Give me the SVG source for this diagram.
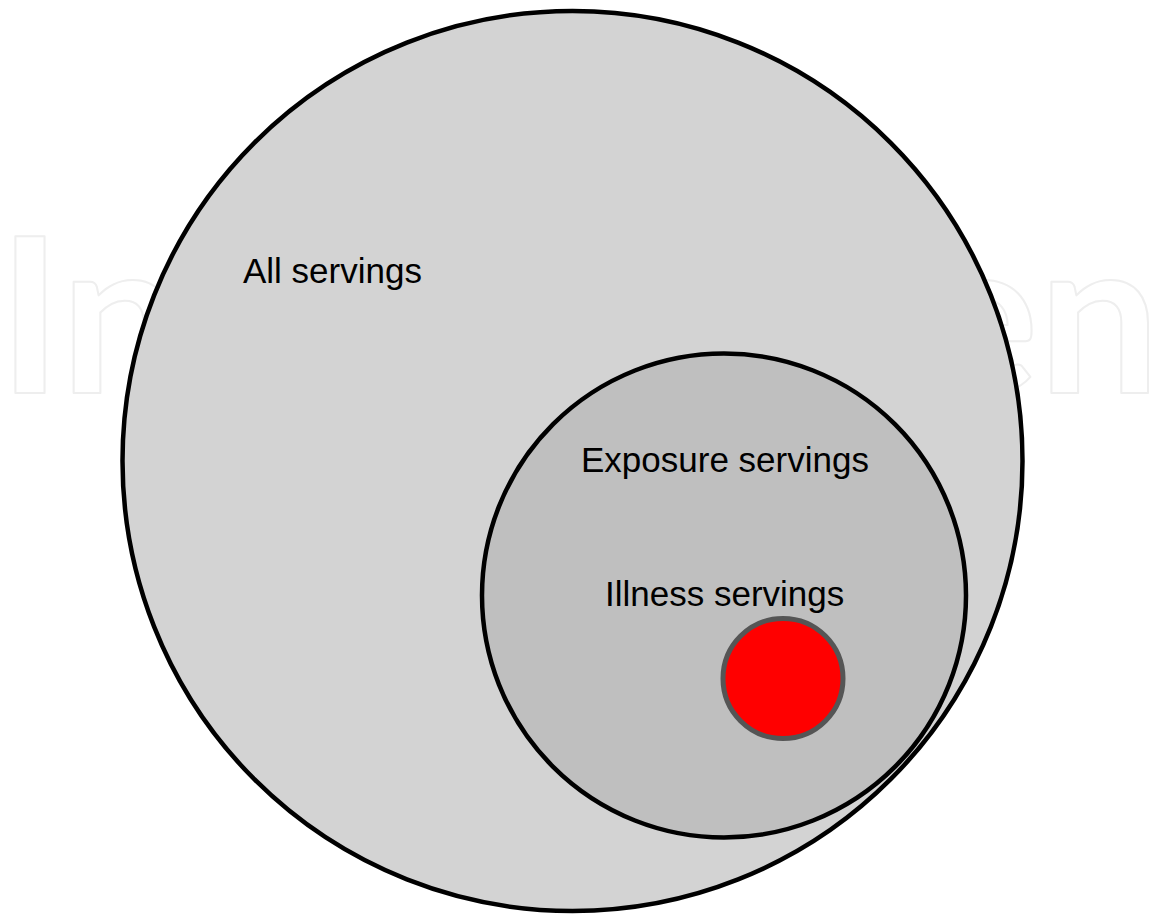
<svg xmlns="http://www.w3.org/2000/svg" width="1151" height="914" viewBox="0 0 1151 914">
<style>
.lbl{font-family:"Liberation Sans",Arial,sans-serif;font-size:35px;fill:#000}
.wm{font-family:Lato,"Noto Sans",sans-serif;font-size:216px;font-weight:bold;fill:none;stroke:#eeeeee;stroke-width:2;stroke-linejoin:round}
</style>
<rect width="1151" height="914" fill="#fff"/>
<text class="wm" x="-2" y="393">In</text>
<text class="wm" x="923" y="393">en</text>
<g id="all">
<circle cx="572.5" cy="461" r="450" fill="#d3d3d3" stroke="#000" stroke-width="4.5"/>
<text class="lbl" x="243" y="283">All servings</text>
</g>
<g id="exposure">
<circle cx="724" cy="595.5" r="242" fill="#bfbfbf" stroke="#000" stroke-width="4.5"/>
<text class="lbl" x="581" y="472">Exposure servings</text>
</g>
<g id="illness">
<text class="lbl" x="605" y="606">Illness servings</text>
<circle cx="783" cy="678.5" r="60" fill="#ff0000" stroke="#555555" stroke-width="5"/>
</g>
<g id="connectors"/>
</svg>
